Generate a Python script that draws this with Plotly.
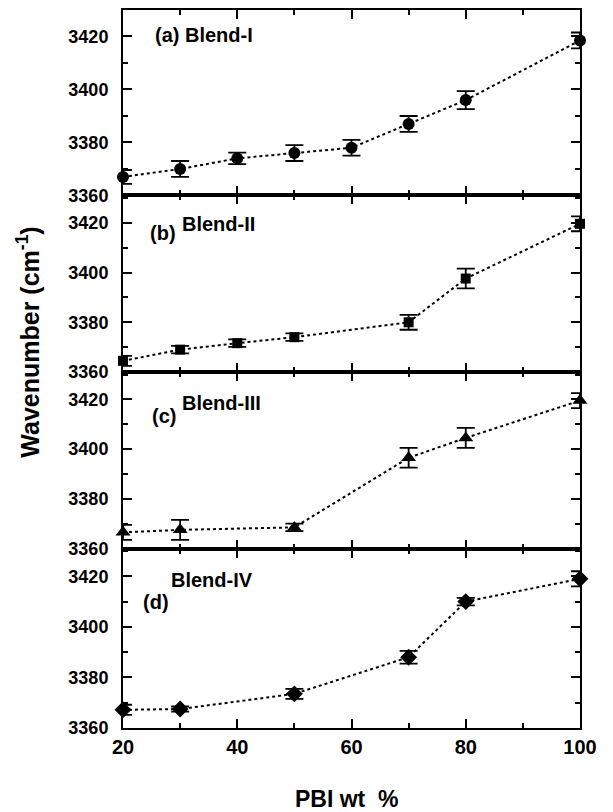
import plotly.graph_objects as go

# ---- data ----
pbi_a = [20, 30, 40, 50, 60, 70, 80, 100]
blend1 = [3367, 3370, 3374, 3376, 3378, 3387, 3396, 3418.5]
blend1_err = [2.6, 3, 2.2, 3, 3, 3, 3.4, 3]

pbi_b = [20, 30, 40, 50, 70, 80, 100]
blend2 = [3364.5, 3369, 3371.6, 3374, 3380, 3397.6, 3419.6]
blend2_err = [2, 1.5, 1.5, 1.5, 3, 4, 3]

pbi_c = [20, 30, 50, 70, 80, 100]
blend3 = [3366.5, 3367.5, 3368.5, 3396.5, 3404.5, 3419.5]
blend3_err = [3, 4, 1.5, 4, 4, 3]

pbi_d = [20, 30, 50, 70, 80, 100]
blend4 = [3367.2, 3367.5, 3373.5, 3388, 3410, 3419]
blend4_err = [2, 1, 2, 2.5, 1.5, 3]

y_ticks = [3360, 3380, 3400, 3420]
x_ticks = [20, 40, 60, 80, 100]

series = [
    (pbi_a, blend1, blend1_err, "circle", 12),
    (pbi_b, blend2, blend2_err, "square", 10),
    (pbi_c, blend3, blend3_err, "triangle-up", 13),
    (pbi_d, blend4, blend4_err, "diamond", 13),
]

FONT = "Liberation Sans, Arial, sans-serif"
fig = go.Figure()
domains = [[0.7417, 1.0], [0.4958, 0.7417], [0.25, 0.4958], [0.0, 0.25]]
ranges = [[3360, 3430], [3360, 3431], [3360, 3431], [3360, 3431]]

for i, (xs, ys, es, sym, sz) in enumerate(series):
    n = i + 1
    xa = "x" if n == 1 else f"x{n}"
    ya = "y" if n == 1 else f"y{n}"
    fig.add_trace(go.Scatter(
        x=xs, y=ys, xaxis=xa, yaxis=ya, mode="lines+markers",
        line=dict(color="black", width=2, dash="dot"),
        marker=dict(symbol=sym, size=sz, color="black"),
        error_y=dict(type="data", array=es, visible=True, color="black", thickness=1.8, width=9),
        cliponaxis=False, showlegend=False,
    ))
    xkey = "xaxis" if n == 1 else f"xaxis{n}"
    ykey = "yaxis" if n == 1 else f"yaxis{n}"
    fig.update_layout({
        xkey: dict(
            domain=[0, 1], anchor=ya, range=[20, 100],
            tickvals=x_ticks, showticklabels=(n == 4),
            ticks="inside", ticklen=9, tickwidth=2, tickcolor="black",
            minor=dict(ticks="inside", dtick=10, ticklen=5, tickwidth=2, tickcolor="black"),
            showline=True, linecolor="black", linewidth=2, mirror="ticks",
            showgrid=False, zeroline=False,
            tickfont=dict(family=FONT, size=20, color="black", weight="bold"),
        ),
        ykey: dict(
            domain=domains[i], anchor=xa, range=ranges[i],
            tickvals=y_ticks, ticklabelstandoff=9,
            ticks="inside", ticklen=9, tickwidth=2, tickcolor="black",
            minor=dict(ticks="inside", dtick=10, ticklen=5, tickwidth=2, tickcolor="black"),
            showline=True, linecolor="black", linewidth=2, mirror="ticks",
            showgrid=False, zeroline=False,
            tickfont=dict(family=FONT, size=18, color="black", weight="bold"),
        ),
    })

def ann(text, x, y, size=20):
    fig.add_annotation(text=text, xref="paper", yref="paper", x=x, y=y,
                       xanchor="left", yanchor="middle", showarrow=False,
                       font=dict(family=FONT, size=size, color="black", weight="bold"))

ann("(a) Blend-I", 0.0656, 0.9650)
ann("(b)", 0.0547, 0.6889)
ann("Blend-II", 0.1247, 0.7014)
ann("(c)", 0.059, 0.4347)
ann("Blend-III", 0.1247, 0.4528)
ann("Blend-IV", 0.1007, 0.2056)
ann("(d)", 0.0394, 0.175)

fig.add_annotation(text="Wavenumber (cm<sup>-1</sup>)", xref="paper", yref="paper",
                   x=-0.208, y=0.538, textangle=-90, showarrow=False,
                   xanchor="center", yanchor="middle",
                   font=dict(family=FONT, size=25, color="black", weight="bold"))
fig.add_annotation(text="PBI wt  %", xref="paper", yref="paper",
                   x=0.49, y=-0.0986, showarrow=False,
                   xanchor="center", yanchor="middle",
                   font=dict(family=FONT, size=23, color="black", weight="bold"))

# the page body adds an 8px offset; the figure is sized so that the plot area
# lands where it sits in the reference
fig.update_layout(
    width=605, height=804,
    margin=dict(l=115, r=33, t=0, b=84),
    plot_bgcolor="white", paper_bgcolor="white",
)
fig.write_html("out.html")
